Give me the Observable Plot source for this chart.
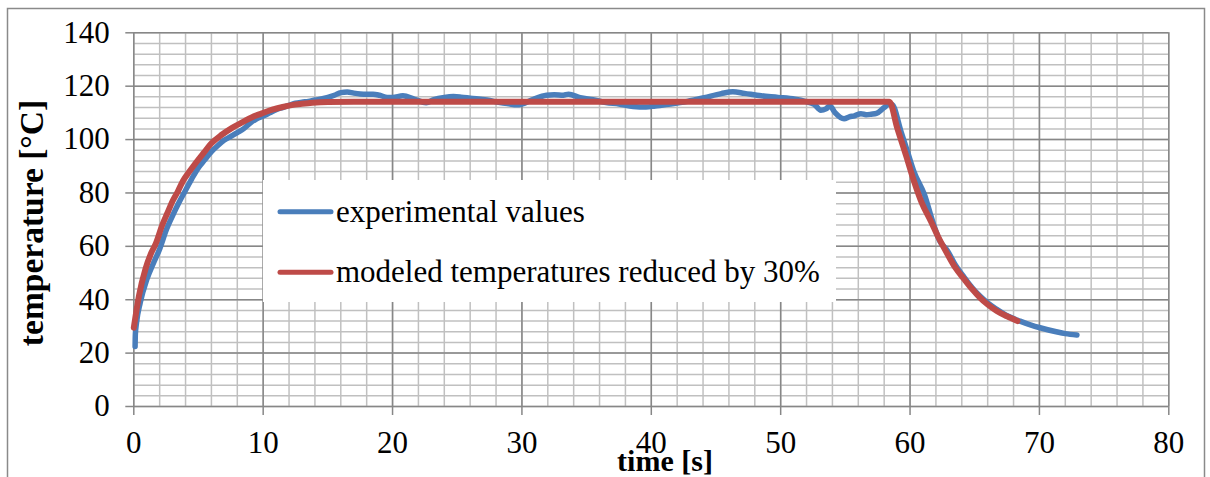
<!DOCTYPE html>
<html>
<head>
<meta charset="utf-8">
<script src="https://cdn.jsdelivr.net/npm/d3@7"></script>
<script src="https://cdn.jsdelivr.net/npm/@observablehq/plot@0.6"></script>
<style>
html, body { margin: 0; padding: 0; background: white; overflow: hidden; }
svg text { font-family: "Liberation Serif", "Times New Roman", serif !important; font-variant-numeric: normal !important; font-variant: normal !important; }
</style>
</head>
<body>
<div id="chart"></div>
<script>
// ---- data ----
const seriesNames = ["experimental values", "modeled temperatures reduced by 30%"];
const seriesColors = ["#4a7ebb", "#be4b48"];

const xTicks = [0, 10, 20, 30, 40, 50, 60, 70, 80];
const yTicks = [0, 20, 40, 60, 80, 100, 120, 140];
const xLabel = "time [s]";
const yLabel = "temperature [°C]";

const expTime = [0.1, 0.12, 0.2, 0.5, 1.0, 1.5, 2.0, 2.5, 3.0, 3.5, 4.0, 4.5, 5.0, 5.5, 6.0, 6.5, 7.0, 7.5, 8.0, 8.5, 9.0, 9.5, 10.0, 10.5, 11.0, 11.5, 12.0, 12.5, 13.0, 13.5, 14.0, 14.5, 15.0, 15.5, 16.0, 16.5, 17.0, 17.5, 18.0, 18.5, 19.0, 19.6, 20.0, 20.8, 21.7, 22.6, 23.2, 24.0, 24.7, 25.3, 26.0, 27.3, 28.3, 29.0, 29.6, 30.0, 30.9, 31.9, 32.5, 33.2, 33.6, 34.5, 35.5, 36.5, 37.5, 38.6, 39.6, 40.3, 41.5, 42.8, 44.1, 45.4, 46.3, 47.2, 48.5, 49.8, 51.1, 51.9, 52.6, 53.1, 53.5, 53.8, 54.2, 54.9, 55.3, 55.7, 56.2, 56.6, 57.0, 57.4, 58.0, 58.4, 58.6, 59.3, 59.8, 60.3, 61.1, 61.8, 62.3, 62.9, 63.5, 64.2, 64.8, 65.4, 66.0, 66.7, 67.5, 68.5, 69.3, 70.05, 71.3, 72.0, 72.9];
const expTemp = [22.5, 27, 31, 39, 47.5, 53.5, 59, 66, 71.5, 76.5, 81, 85.5, 89.5, 92.5, 95.5, 97.8, 99.8, 101.2, 102.6, 104.1, 106.2, 107.8, 108.8, 110, 111.2, 112, 112.8, 113.6, 114, 114.3, 114.8, 115.2, 115.8, 116.6, 117.6, 117.8, 117.4, 117.1, 117, 117, 116.6, 115.8, 115.8, 116.4, 115.1, 113.8, 115, 115.8, 116.1, 115.9, 115.5, 114.8, 113.9, 113.4, 113, 113.3, 115.1, 116.6, 116.8, 116.6, 117, 115.7, 114.9, 113.9, 113.3, 112.4, 112.2, 112.6, 113.3, 114.3, 115.7, 117.2, 117.9, 117.3, 116.4, 115.8, 115.1, 114.3, 113.2, 111, 111.5, 112.6, 110.1, 107.8, 108.5, 108.9, 109.7, 109.3, 109.5, 109.8, 112, 113.3, 113.2, 103, 95.5, 88, 79.5, 68.5, 62, 58.3, 53, 48.3, 44.5, 41.4, 38.8, 36.4, 34, 32, 30.6, 29.5, 28, 27.3, 26.8];

const modTime = [0, 0.4, 0.9, 1.3, 1.7, 2.2, 2.6, 3.0, 3.4, 3.8, 4.3, 4.8, 5.4, 6.0, 6.8, 7.6, 8.4, 9.1, 9.9, 10.7, 11.5, 12.2, 13.0, 13.8, 15.0, 17.0, 20.0, 30.0, 40.0, 50.0, 58.4, 59.0, 59.7, 60.3, 60.9, 61.6, 62.2, 62.9, 63.5, 64.2, 64.8, 65.4, 66.0, 66.7, 67.5, 68.3];
const modTemp = [29.5, 41.5, 51.5, 57, 61, 68, 72.5, 77, 80.5, 84.5, 88, 91.3, 95, 98.6, 101.8, 104.4, 106.5, 108.3, 109.8, 111.2, 112.2, 112.9, 113.4, 113.8, 114.1, 114.2, 114.2, 114.2, 114.2, 114.2, 114.2, 104.5, 93.9, 84.5, 76.4, 69.5, 63.3, 57, 52, 47.6, 44, 40.8, 38.2, 35.8, 33.8, 32];

const expData = expTime.map((t, i) => ({t, v: expTemp[i]}));
const modData = modTime.map((t, i) => ({t, v: modTemp[i]}));

const serif = "Liberation Serif, Times New Roman, serif";
const gridMinor = "#c0c0c0";
const gridMajor = "#878787";

const svg = Plot.plot({
  width: 1210,
  height: 477,
  marginLeft: 133.3,
  marginRight: 41.7,
  marginTop: 32.3,
  marginBottom: 71,
  x: {domain: [0, 80]},
  y: {domain: [0, 140]},
  style: {fontFamily: serif, fontSize: "31px", color: "black", background: "white", overflow: "hidden"},
  marks: [
    Plot.ruleX(d3.range(0, 80.01, 2), {stroke: gridMinor, strokeWidth: 1.5}),
    Plot.ruleY(d3.range(0, 140.01, 4), {stroke: gridMinor, strokeWidth: 1.5}),
    Plot.ruleX(xTicks, {stroke: gridMajor, strokeWidth: 1.5}),
    Plot.ruleY(yTicks, {stroke: gridMajor, strokeWidth: 1.5}),
    Plot.axisX({ticks: xTicks, tickSize: 9, tickPadding: 15, stroke: gridMajor, strokeWidth: 1.5, label: null, fontSize: 31, fontFamily: serif}),
    Plot.axisY({ticks: yTicks, tickSize: 8, tickPadding: 16, stroke: gridMajor, strokeWidth: 1.5, label: null, fontSize: 31, fontFamily: serif}),
    Plot.line(expData, {x: "t", y: "v", stroke: seriesColors[0], strokeWidth: 5.5, curve: "monotone-x", strokeLinecap: "round", strokeLinejoin: "round"}),
    Plot.line(modData, {x: "t", y: "v", stroke: seriesColors[1], strokeWidth: 6, curve: "monotone-x", strokeLinecap: "round", strokeLinejoin: "round"})
  ]
});

const s = d3.select(svg);

// outer chart border
s.append("rect")
  .attr("x", 7.5).attr("y", 8.5).attr("width", 1197).attr("height", 490)
  .attr("fill", "none").attr("stroke", "#8a8a8a").attr("stroke-width", 1.5);

// legend
const lg = s.append("g").attr("text-anchor", "start");
lg.append("rect").attr("x", 263).attr("y", 180).attr("width", 573).attr("height", 122).attr("fill", "white");
seriesNames.forEach((name, i) => {
  const cy = 211.7 + i * 60.6;
  lg.append("line").attr("x1", 280).attr("x2", 331).attr("y1", cy).attr("y2", cy)
    .attr("stroke", seriesColors[i]).attr("stroke-width", 5).attr("stroke-linecap", "round");
  lg.append("text").attr("x", 336).attr("y", cy).attr("dy", "0.32em").attr("text-anchor", "start")
    .style("font-size", "31px").attr("fill", "black").text(name);
});

// axis titles
s.append("text").attr("x", 665).attr("y", 470.7).attr("text-anchor", "middle")
  .style("font-weight", "bold").style("font-size", "30px").attr("fill", "black").text(xLabel);
s.append("text").attr("transform", "translate(43,223) rotate(-90)").attr("text-anchor", "middle")
  .style("font-weight", "bold").style("font-size", "33.5px").attr("fill", "black").text(yLabel);

document.getElementById("chart").appendChild(svg);
</script>
</body>
</html>
